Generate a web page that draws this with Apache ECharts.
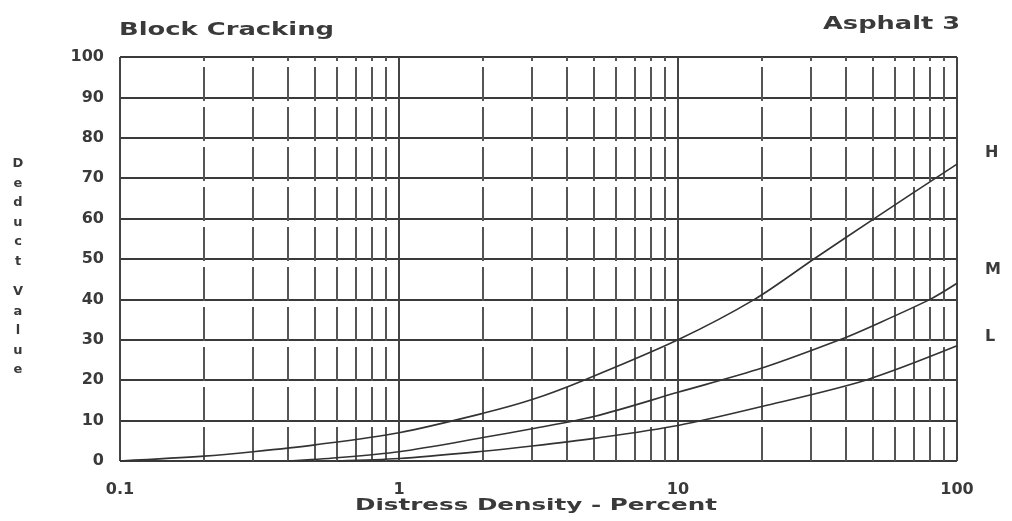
<!DOCTYPE html>
<html>
<head>
<meta charset="utf-8">
<script src="https://cdn.jsdelivr.net/npm/echarts@6/dist/echarts.min.js"></script>
<style>html,body{margin:0;padding:0;background:#fff;}#c{width:1012px;height:521px;}</style>
</head>
<body>
<div id="c"></div>
<script>
// Data
const seriesNames = ['H', 'M', 'L'];
const hX = [0.1, 0.2, 0.3, 0.5, 1, 2, 3, 4.6, 10, 18.8, 30.7, 50.5, 100];
const hY = [0, 1.2, 2.3, 4, 7, 11.8, 15.2, 20, 30, 40, 50, 60, 73.5];
const mX = [0.4, 0.6, 1, 2, 3, 5, 10, 20, 38, 50, 80, 100];
const mY = [0, 0.8, 2.3, 5.8, 8, 11, 17, 23, 30, 33.5, 40, 44];
const lX = [0.6, 1, 2, 3, 5, 10, 20, 47, 100];
const lY = [0, 0.6, 2.4, 3.7, 5.6, 8.8, 13.5, 20, 28.5];
const minorGridX = [0.2,0.3,0.4,0.5,0.6,0.7,0.8,0.9,2,3,4,5,6,7,8,9,20,30,40,50,60,70,80,90];
const xTickLabels = ['0.1', '1', '10', '100'];
const yTicks = [0,10,20,30,40,50,60,70,80,90,100];
const titleText = 'Block Cracking';
const subtitleText = 'Asphalt 3';
const xName = 'Distress Density - Percent';
const yNameA = 'Deduct';
const yNameB = 'Value';

const pair = (xs, ys) => xs.map((x, i) => [x, ys[i]]);
const family = '"DejaVu Sans"';
const ink = '#3a3a3a';
const endLabelShift = [-11, -13, -9];

const measureCtx = document.createElement('canvas').getContext('2d');
function fitScale(text, font, target) {
  measureCtx.font = font;
  return target / measureCtx.measureText(text).width;
}
const titleFont = 'bold 18px ' + family;
const nameFont = 'bold 15px ' + family;

const chart = echarts.init(document.getElementById('c'));
const lineSeries = [[hX,hY],[mX,mY],[lX,lY]].map((d, i) => ({
  name: seriesNames[i],
  type: 'line',
  data: pair(d[0], d[1]),
  smooth: 0.3,
  showSymbol: false,
  symbol: 'none',
  lineStyle: { color: '#333', width: 1.6 },
  endLabel: {
    show: true, formatter: seriesNames[i], color: ink,
    fontFamily: 'DejaVu Sans', fontWeight: 'bold', fontSize: 16, offset: [20, endLabelShift[i]]
  },
  z: 5
}));

chart.setOption({
  animation: false,
  backgroundColor: '#fff',
  grid: { left: 120, right: 55, top: 57, bottom: 60 },
  xAxis: {
    type: 'log', logBase: 10, min: 0.1, max: 100,
    axisLine: { show: false },
    axisTick: { show: false },
    axisLabel: {
      color: ink, fontFamily: 'DejaVu Sans', fontWeight: 'bold', fontSize: 16, margin: 21,
      formatter: v => {
        const s = String(+v.toPrecision(3));
        return xTickLabels.includes(s) ? s : '';
      }
    },
    splitLine: { show: true, lineStyle: { color: '#444', width: 2 } }
  },
  yAxis: {
    type: 'value', min: 0, max: 100, interval: 10,
    axisLine: { show: false },
    axisTick: { show: false },
    axisLabel: {
      color: ink, fontFamily: 'DejaVu Sans', fontWeight: 'bold', fontSize: 16, margin: 16,
      formatter: v => yTicks.includes(v) ? String(v) : ''
    },
    splitLine: { show: true, lineStyle: { color: '#3a3a3a', width: 2 } }
  },
  series: [
    ...lineSeries,
    {
      type: 'line', data: [], silent: true,
      markLine: {
        silent: true, symbol: 'none', label: { show: false },
        lineStyle: { color: '#555', width: 2, type: [34, 6] },
        data: minorGridX.map(v => ({ xAxis: v }))
      }
    }
  ],
  graphic: [
    { type: 'text', left: 119, top: 21, scaleX: fitScale(titleText, titleFont, 215),
      style: { text: titleText, fill: ink, font: titleFont } },
    { type: 'text', left: 823, top: 15, scaleX: fitScale(subtitleText, titleFont, 137),
      style: { text: subtitleText, fill: ink, font: titleFont } },
    { type: 'text', left: 355, top: 499, scaleX: fitScale(xName, nameFont, 362),
      style: { text: xName, fill: ink, font: nameFont } },
    { type: 'text', x: 18, y: 154,
      style: { text: yNameA.split('').join('\n'), fill: ink, font: 'bold 13px ' + family, lineHeight: 19.5, align: 'center' } },
    { type: 'text', x: 18, y: 282,
      style: { text: yNameB.split('').join('\n'), fill: ink, font: 'bold 13px ' + family, lineHeight: 19.5, align: 'center' } }
  ]
});
</script>
</body>
</html>
